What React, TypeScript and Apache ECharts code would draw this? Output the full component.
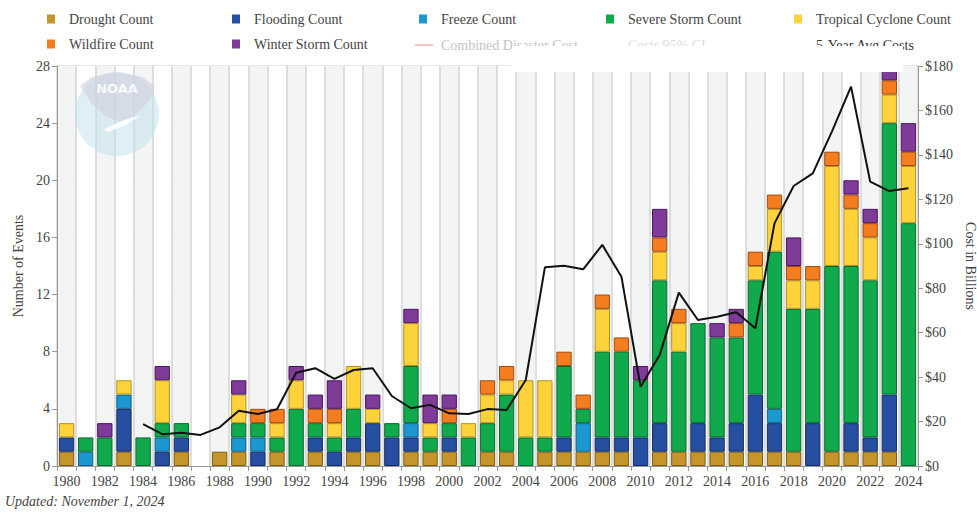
import React, { useEffect, useRef } from 'react';
import * as echarts from 'echarts';

const years = ['1980','1981','1982','1983','1984','1985','1986','1987','1988','1989','1990','1991','1992','1993','1994','1995','1996','1997','1998','1999','2000','2001','2002','2003','2004','2005','2006','2007','2008','2009','2010','2011','2012','2013','2014','2015','2016','2017','2018','2019','2020','2021','2022','2023','2024'];

const drought =  [1,0,0,1,0,0,1,0,1,1,0,1,0,1,0,1,1,0,1,1,1,0,1,1,0,1,1,1,1,1,0,1,1,1,1,1,1,1,1,0,1,1,1,1,0];
const flooding = [1,0,0,3,0,1,1,0,0,0,1,0,0,1,1,1,2,2,1,0,1,0,0,0,0,0,1,0,1,1,2,2,0,2,1,2,4,2,0,3,0,2,1,4,0];
const freeze =   [0,1,0,1,0,1,0,0,0,1,1,0,0,0,0,0,0,0,1,0,0,0,0,0,0,0,0,2,0,0,0,0,0,0,0,0,0,1,0,0,0,0,0,0,0];
const severe =   [0,1,2,0,2,1,1,0,0,1,1,1,4,1,1,2,0,1,4,1,1,2,2,4,2,1,5,1,6,6,4,10,7,7,7,6,8,11,10,8,13,11,11,19,17];
const tropical = [1,0,0,1,0,3,0,0,0,2,0,1,2,0,1,3,1,0,3,1,0,1,2,1,4,4,0,0,3,0,0,2,2,0,0,0,1,3,2,2,7,4,3,2,4];
const wildfire = [0,0,0,0,0,0,0,0,0,0,1,1,0,1,1,0,0,0,0,0,1,0,1,1,0,0,1,1,1,1,0,1,1,0,0,1,1,1,1,1,1,1,1,1,1];
const winter =   [0,0,1,0,0,1,0,0,0,1,0,0,1,1,2,0,1,0,1,2,1,0,0,0,0,0,0,0,0,0,1,2,0,0,1,1,0,0,2,0,0,1,1,1,2];

// 5-Year average costs (billions USD), first value in 1984
const avgCost = [null,null,null,null,18.8,14.3,15.0,14.0,17.4,24.9,23.4,25.5,42.0,44.0,39.2,43.2,44.0,31.5,26.0,27.5,23.7,23.4,25.6,25.2,38.7,89.4,90.1,88.5,99.5,85.2,35.7,50.0,78.0,65.7,67.2,69.2,62.0,109.2,126.0,131.7,150.5,170.7,128.0,123.7,125.0];

const FONT = '"Liberation Serif", "DejaVu Serif", serif';
const TEXT = '#444';

const barDefs = [
  { name: 'Drought Count', data: drought, color: '#c5952c', border: '#7d5c14', lx: 47, row: 0 },
  { name: 'Flooding Count', data: flooding, color: '#264fa1', border: '#142c66', lx: 232, row: 0 },
  { name: 'Freeze Count', data: freeze, color: '#1c98d1', border: '#0f5f88', lx: 419, row: 0 },
  { name: 'Severe Storm Count', data: severe, color: '#10a94c', border: '#0a6b2f', lx: 606, row: 0 },
  { name: 'Tropical Cyclone Count', data: tropical, color: '#fdd23a', border: '#b49220', lx: 794, row: 0 },
  { name: 'Wildfire Count', data: wildfire, color: '#f47d20', border: '#9e4a10', lx: 47, row: 1 },
  { name: 'Winter Storm Count', data: winter, color: '#7e3b97', border: '#4a1560', lx: 232, row: 1 },
];

export default function App() {
  const ref = useRef<HTMLDivElement>(null);
  useEffect(() => {
    const chart = echarts.init(ref.current!, null, { renderer: 'svg' });
    const rowTop = [12, 37];
    const option: any = {
      animation: false,
      backgroundColor: '#fff',
      textStyle: { fontFamily: FONT },
      legend: barDefs.map((d) => ({
        data: [d.name],
        left: d.lx,
        top: rowTop[d.row],
        padding: 0,
        itemWidth: 8,
        itemHeight: 9,
        icon: 'rect',
        itemStyle: { borderWidth: 0 },
        selectedMode: false,
        textStyle: { fontFamily: FONT, fontSize: 14, color: TEXT, padding: [0, 0, 0, 9] },
      })),
      grid: { left: 57, right: 59, top: 66, bottom: 46, containLabel: false, outerBoundsMode: 'none' },
      xAxis: {
        type: 'category',
        data: years,
        axisLine: { show: true, lineStyle: { color: '#999', width: 1 } },
        axisTick: { show: true, interval: 0, length: 5, lineStyle: { color: '#999' } },
        axisLabel: { interval: 1, fontFamily: FONT, fontSize: 14, color: TEXT, margin: 8 },
        splitLine: { show: true, interval: 0, lineStyle: { color: '#d4d4d4', width: 1.5 } },
        splitArea: { show: true, interval: 0, areaStyle: { color: ['#f3f4f4', '#ffffff'] } },
      },
      yAxis: [
        {
          type: 'value', min: 0, max: 28, interval: 4,
          name: 'Number of Events', nameLocation: 'middle', nameGap: 32,
          nameTextStyle: { fontFamily: FONT, fontSize: 14, color: TEXT },
          axisLine: { show: true, lineStyle: { color: '#999' } },
          axisTick: { show: true, length: 5, lineStyle: { color: '#999' } },
          axisLabel: { fontFamily: FONT, fontSize: 14, color: TEXT, margin: 7 },
          splitLine: { show: true, lineStyle: { color: '#dedede', width: 1.5 } },
        },
        {
          type: 'value', min: 0, max: 180, interval: 20, position: 'right',
          name: 'Cost in Billions', nameLocation: 'middle', nameGap: 43, nameRotate: -90,
          nameTextStyle: { fontFamily: FONT, fontSize: 14, color: TEXT },
          axisLine: { show: true, lineStyle: { color: '#999' } },
          axisTick: { show: true, length: 5, lineStyle: { color: '#999' } },
          axisLabel: { fontFamily: FONT, fontSize: 14, color: TEXT, margin: 7, formatter: (v: number) => '$' + v },
          splitLine: { show: false },
        },
      ],
      series: [
        ...barDefs.map((d) => ({
          name: d.name,
          type: 'bar',
          stack: 'events',
          barCategoryGap: '20%',
          data: d.data.map((v) => (v ? v : null)),
          itemStyle: { color: d.color, borderColor: d.border, borderWidth: 1 },
        })),
        {
          name: '5-Year Avg Costs',
          type: 'line',
          yAxisIndex: 1,
          data: avgCost,
          symbol: 'none',
          connectNulls: false,
          lineStyle: { color: '#111', width: 2 },
          z: 5,
        },
      ],
      graphic: [
        // NOAA watermark
        { type: 'circle', shape: { cx: 117, cy: 114, r: 42 }, style: { fill: '#bfdfee', opacity: 0.5 }, z: 10, silent: true },
        { type: 'polygon', shape: { points: [[80, 86], [92, 77], [117, 72], [142, 77], [155, 86], [150, 100], [137, 113], [122, 123], [106, 116], [92, 104]] }, style: { fill: '#cfd1df', opacity: 0.65 }, z: 11, silent: true },
        { type: 'polygon', shape: { points: [[104, 129], [124, 120], [140, 116], [126, 125], [108, 132]] }, style: { fill: '#ffffff', opacity: 0.9 }, z: 12, silent: true },
        { type: 'text', x: 117, y: 88, style: { text: 'NOAA', fill: '#ffffff', opacity: 0.85, font: 'bold 13px "DejaVu Sans", sans-serif', textAlign: 'center', textVerticalAlign: 'middle' }, z: 12, silent: true },
        // remaining legend entries
        { type: 'line', shape: { x1: 415, y1: 45, x2: 433, y2: 45 }, style: { stroke: '#f2c4c4', lineWidth: 2 }, z: 50 },
        { type: 'text', x: 441, y: 45, style: { text: 'Combined Disaster Cost', fill: '#c4c4c4', font: '14px ' + FONT, textVerticalAlign: 'middle' }, z: 50 },
        { type: 'text', x: 628, y: 45, style: { text: 'Costs 95% CI', fill: '#dddddd', font: '14px ' + FONT, textVerticalAlign: 'middle' }, z: 50 },
        { type: 'text', x: 816, y: 45, style: { text: '5-Year Avg Costs', fill: '#333', font: '14px ' + FONT, textVerticalAlign: 'middle' }, z: 50 },
        // white legend box overlapping the plot top
        { type: 'rect', shape: { x: 512, y: 46, width: 391, height: 26 }, style: { fill: '#ffffff' }, z: 100, silent: true },
        // footer
        { type: 'text', left: 5, top: 494, style: { text: 'Updated: November 1, 2024', fill: TEXT, font: 'italic 14px ' + FONT }, z: 50 },
      ],
    };
    chart.setOption(option);
    return () => chart.dispose();
  }, []);
  return <div ref={ref} style={{ position: 'fixed', left: 0, top: 0, width: 977, height: 512 }} />;
}
